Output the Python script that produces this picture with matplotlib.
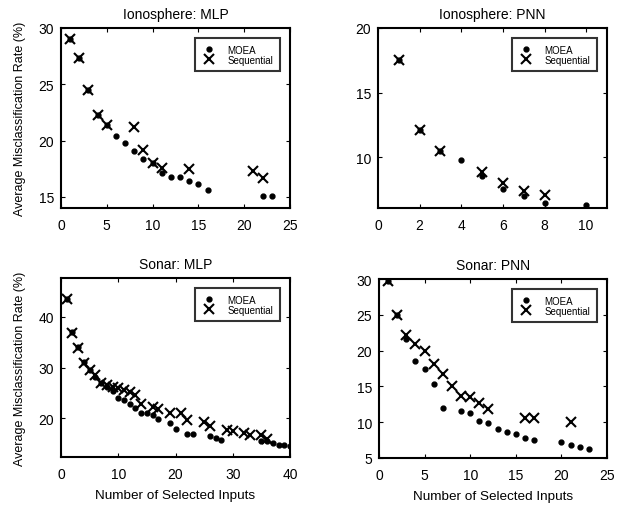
import matplotlib
matplotlib.use("Agg")
import matplotlib.pyplot as plt

plt.rcParams['font.family'] = ['Liberation Sans', 'DejaVu Sans']

# Ionosphere: MLP
iono_mlp_moea_x = [1, 2, 3, 4, 5, 6, 7, 8, 9, 10, 11, 12, 13, 14, 15, 16, 22, 23]
iono_mlp_moea_y = [29.0, 27.3, 24.5, 22.3, 21.4, 20.4, 19.8, 19.1, 18.4, 18.0, 17.1, 16.8, 16.8, 16.4, 16.1, 15.6, 15.1, 15.1]
iono_mlp_seq_x = [1, 2, 3, 4, 5, 8, 9, 10, 11, 14, 21, 22]
iono_mlp_seq_y = [29.0, 27.3, 24.5, 22.3, 21.4, 21.2, 19.2, 18.0, 17.6, 17.5, 17.3, 16.7]

# Ionosphere: PNN
iono_pnn_moea_x = [1, 2, 3, 4, 5, 6, 7, 8, 10]
iono_pnn_moea_y = [17.5, 12.1, 10.5, 9.8, 8.6, 7.6, 7.0, 6.45, 6.3]
iono_pnn_seq_x = [1, 2, 3, 5, 6, 7, 8]
iono_pnn_seq_y = [17.5, 12.1, 10.5, 8.9, 8.0, 7.4, 7.1]

# Sonar: MLP
sonar_mlp_moea_x = [1, 2, 3, 4, 5, 6, 7, 8, 9, 10, 11, 12, 13, 14, 15, 16, 17, 19, 20,
                    22, 23, 26, 27, 28, 35, 36, 37, 38, 39, 40]
sonar_mlp_moea_y = [43.6, 37.0, 34.0, 31.0, 29.5, 28.1, 27.0, 26.1, 25.4, 23.9, 23.6, 22.8,
                    22.0, 21.0, 21.0, 20.7, 19.8, 19.1, 17.9, 16.8, 16.8, 16.5, 16.1, 15.7,
                    15.4, 15.4, 15.1, 14.7, 14.6, 14.5]
sonar_mlp_seq_x = [1, 2, 3, 4, 5, 6, 7, 8, 9, 10, 11, 12, 13, 14, 16, 17, 19, 21, 22,
                   25, 26, 29, 30, 32, 33, 35, 36]
sonar_mlp_seq_y = [43.6, 36.9, 33.9, 30.9, 29.6, 28.5, 26.9, 26.5, 26.2, 26.0, 25.5, 25.1,
                   24.5, 22.7, 22.2, 21.8, 21.1, 21.0, 19.7, 19.2, 18.4, 17.7, 17.4, 17.0,
                   16.7, 16.6, 15.9]

# Sonar: PNN
sonar_pnn_moea_x = [1, 2, 3, 4, 5, 6, 7, 9, 10, 11, 12, 13, 14, 15, 16, 17, 20, 21, 22, 23]
sonar_pnn_moea_y = [29.7, 25.0, 21.6, 18.5, 17.4, 15.4, 12.0, 11.5, 11.3, 10.1, 9.9, 9.1,
                    8.6, 8.4, 7.8, 7.5, 7.3, 6.8, 6.5, 6.3]
sonar_pnn_seq_x = [1, 2, 3, 4, 5, 6, 7, 8, 9, 10, 11, 12, 16, 17, 21]
sonar_pnn_seq_y = [29.7, 25.0, 22.2, 20.9, 19.9, 18.1, 16.8, 15.0, 13.7, 13.5, 12.7, 11.9,
                   10.6, 10.6, 10.0]

panels = [
    ("Ionosphere: MLP", iono_mlp_moea_x, iono_mlp_moea_y, iono_mlp_seq_x, iono_mlp_seq_y,
     (0, 25), (14, 30), [0, 5, 10, 15, 20, 25], [15, 20, 25, 30]),
    ("Ionosphere: PNN", iono_pnn_moea_x, iono_pnn_moea_y, iono_pnn_seq_x, iono_pnn_seq_y,
     (0, 11), (6.1, 20), [0, 2, 4, 6, 8, 10], [10, 15, 20]),
    ("Sonar: MLP", sonar_mlp_moea_x, sonar_mlp_moea_y, sonar_mlp_seq_x, sonar_mlp_seq_y,
     (0, 40), (12.3, 47.7), [0, 10, 20, 30, 40], [20, 30, 40]),
    ("Sonar: PNN", sonar_pnn_moea_x, sonar_pnn_moea_y, sonar_pnn_seq_x, sonar_pnn_seq_y,
     (0, 25), (5, 30), [0, 5, 10, 15, 20, 25], [5, 10, 15, 20, 25, 30]),
]

W, H = 624, 510
boxes = [(61, 29, 290, 209), (378, 29, 607, 209), (61, 279, 290, 458), (379, 280, 607, 459)]

fig = plt.figure(figsize=(W / 100, H / 100), dpi=100)

for i, (title, mx, my, sx, sy, xl, yl, xt, yt) in enumerate(panels):
    l, t, r, b = boxes[i]
    ax = fig.add_axes([l / W, 1 - b / H, (r - l) / W, (b - t) / H])
    ax.plot(mx, my, 'o', color='black', markersize=3.5, label='MOEA', linestyle='none')
    ax.plot(sx, sy, 'x', color='black', markersize=7, markeredgewidth=1.5,
            label='Sequential', linestyle='none')
    ax.set_xlim(xl)
    ax.set_ylim(yl)
    ax.set_xticks(xt)
    ax.set_yticks(yt)
    ax.tick_params(direction='in', length=3, width=0.8, top=True, right=True,
                   labelsize=10)
    ax.tick_params(axis='x', pad=7)
    ax.tick_params(axis='y', pad=5)
    for sp in ax.spines.values():
        sp.set_linewidth(1.5)
    ax.set_title(title, fontsize=10, pad=7)
    leg = ax.legend(loc='upper right', fontsize=7, frameon=True, fancybox=False,
                    borderaxespad=1.0, handlelength=1.5, handletextpad=1.2,
                    labelspacing=0.0, borderpad=0.7)
    leg.get_frame().set_edgecolor('black')
    leg.get_frame().set_linewidth(1.5)
    if i % 2 == 0:
        ax.set_ylabel("Average Misclassification Rate (%)", fontsize=9, labelpad=9)
    if i >= 2:
        ax.set_xlabel("Number of Selected Inputs", fontsize=9.7, labelpad=6)

fig.savefig("out.png", dpi=100)
